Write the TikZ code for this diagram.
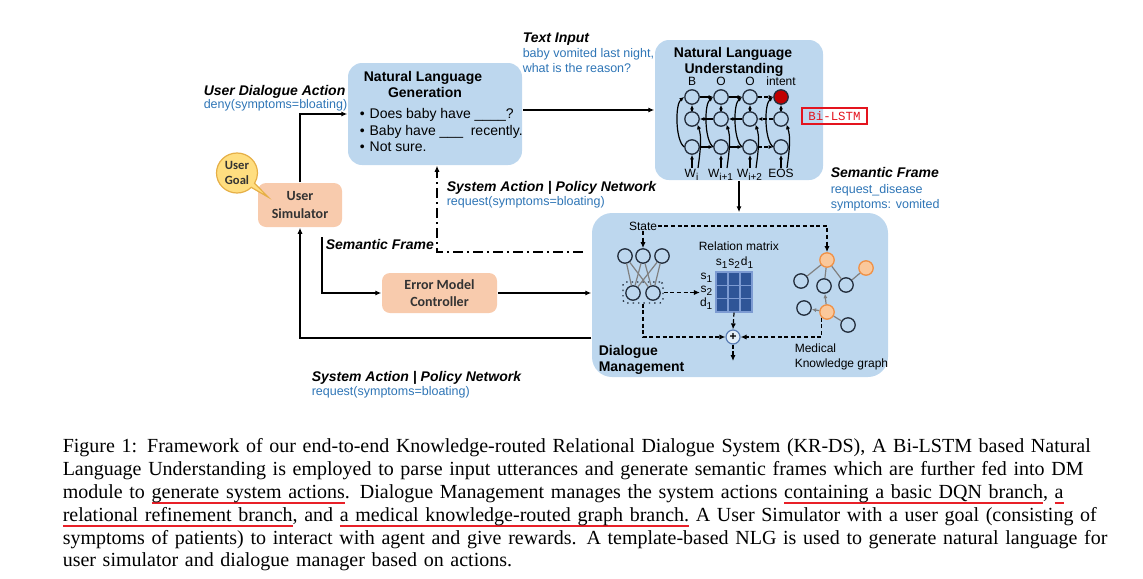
\documentclass[tikz,border=0pt]{standalone}
\usepackage{fontspec}
\setmainfont{Liberation Serif}
\setsansfont{Liberation Sans}
\setmonofont{Liberation Mono}
\newfontfamily\calfont{Carlito}
\usetikzlibrary{arrows.meta,positioning,shapes.callouts}

\definecolor{modblue}{RGB}{189,215,238}
\definecolor{valblue}{RGB}{46,117,182}
\definecolor{peach}{RGB}{248,203,173}
\definecolor{goalfill}{RGB}{255,222,128}
\definecolor{goaledge}{RGB}{230,175,70}
\definecolor{kgfill}{RGB}{250,200,155}
\definecolor{kgedge}{RGB}{240,145,70}
\definecolor{matblue}{RGB}{47,85,151}
\definecolor{matline}{RGB}{125,155,210}
\definecolor{intentred}{RGB}{192,0,0}
\definecolor{lstmred}{RGB}{228,20,30}
\definecolor{ulred}{RGB}{232,32,40}
\definecolor{edgegray}{RGB}{128,128,128}
\definecolor{celledge}{RGB}{35,45,60}
\definecolor{plusedge}{RGB}{90,125,180}

\newsavebox\ulbox
\newcommand\redul[1]{\sbox\ulbox{#1}\leavevmode\rlap{\textcolor{ulred}{\rule[-2.9pt]{\wd\ulbox}{1pt}}}\usebox\ulbox}
\newcommand\capline[1]{\makebox[523pt][s]{#1}}

\tikzset{
  module/.style={fill=modblue, rounded corners=7pt, inner sep=0pt},
  agent/.style={fill=peach, rounded corners=4pt, inner sep=0pt, align=center,
    font=\calfont\bfseries\fontsize{7}{8.6}\selectfont, text=black!80},
  ttl/.style={font=\sffamily\bfseries\fontsize{7}{8}\selectfont, inner sep=0pt},
  plaintxt/.style={font=\sffamily\fontsize{7}{8}\selectfont, inner sep=0pt},
  lbl/.style={font=\sffamily\bfseries\itshape\fontsize{7}{8}\selectfont, inner sep=0pt},
  val/.style={font=\sffamily\fontsize{6.25}{7.5}\selectfont, text=valblue, inner sep=0pt},
  smalltxt/.style={font=\sffamily\fontsize{6}{7.5}\selectfont, inner sep=0pt},
  cell/.style={circle, draw=celledge, line width=0.65pt, minimum size=7.2pt, inner sep=0pt},
  darr/.style={->, line width=0.6pt, dash pattern=on 2pt off 1.3pt},
  dashdot/.style={line width=0.8pt, dash pattern=on 5pt off 2pt on 1pt off 2pt},
}

\begin{document}
\begin{tikzpicture}[x=0.5pt, y=-0.5pt, line width=0.75pt, >={Latex[length=3pt,width=2.6pt]}]
\useasboundingbox (0,0) rectangle (1143,578);

% modules
\node[module, minimum width=87pt, minimum height=51pt] (nlg) at (435,114) {};
\node[module, minimum width=84pt, minimum height=70pt] (nlu) at (739,110) {};
\node[module, rounded corners=10pt, minimum width=148pt, minimum height=82pt] (dm) at (740,295) {};
\node[agent, minimum width=42pt, minimum height=22pt] (usim) at (300,205) {User\\Simulator};
\node[agent, minimum width=57.5pt, minimum height=20pt] (emc) at (439.5,293) {Error Model\\Controller};
\node[ellipse callout, draw=goaledge, fill=goalfill, line width=0.6pt, minimum width=20.5pt,
  minimum height=20pt, inner sep=0pt, align=center, text=black!80,
  font=\calfont\bfseries\fontsize{6.3}{7.3}\selectfont,
  callout absolute pointer={(268,197)}] (goal) at (237,173) {User\\Goal};

% main flow
\draw[->] (usim.north) |- (nlg.west);
\draw[->] (nlg.east |- nlu.west) -- (nlu.west);
\draw[->] (nlu.south) -- (nlu.south |- dm.north);
\coordinate (dmsys) at (583,252);
\draw[->, dashdot] (dmsys) -| ([xshift=1pt]nlg.south);
\coordinate (sfin) at (322,237);
\draw[->] (sfin) |- (emc.west);
\draw[->] (emc.east) -- (emc.east -| dm.west);
\draw[->] (dm.west |- 0,338) -| (usim.south);

% labels on the flow
\node[lbl, anchor=base west] (udalbl) at (203,95) {User Dialogue Action};
\node[val, anchor=base west] (udaval) at (203,108) {deny(symptoms=bloating)};
\node[lbl, anchor=base west] (tilbl) at (522,42) {Text Input};
\node[val, anchor=base west] (tival1) at (522,57) {baby vomited last night,};
\node[val, anchor=base west] (tival2) at (522,72) {what is the reason?};
\node[lbl, anchor=base west] (salbl) at (446,191) {System Action | Policy Network};
\node[val, anchor=base west] (saval) at (446,205) {request(symptoms=bloating)};
\node[lbl, anchor=base west] (sflbl) at (325,249) {Semantic Frame};
\node[lbl, anchor=base west] (sf2lbl) at (830,177) {Semantic Frame};
\node[val, anchor=base west] (sf2val1) at (830,193) {request\_disease};
\node[val, anchor=base west] (sf2val2) at (830,208) {symptoms: vomited};
\node[lbl, anchor=base west] (sa2lbl) at (311,381) {System Action | Policy Network};
\node[val, anchor=base west] (sa2val) at (311,395) {request(symptoms=bloating)};

% NLG
\node[ttl, anchor=base] (nlgt1) at (423,81) {Natural Language};
\node[ttl, anchor=base] (nlgt2) at (425,97) {Generation};
\foreach \n/\ly/\txt in {1/118/{Does baby have \_\_\_\_?}, 2/135/{Baby have \_\_\_\ \ recently.}, 3/151/{Not sure.}}
  \node[plaintxt, anchor=base west] (nlgi\n) at (359,\ly) {\textbullet\hspace{2.5pt}\txt};

% NLU: Bi-LSTM
\node[ttl, anchor=base] (nlut1) at (733,57) {Natural Language};
\node[ttl, anchor=base] (nlut2) at (734,73) {Understanding};
\foreach \c/\cx/\out/\win/\fc in {1/692/B/W\textsubscript{i}/none, 2/721/O/W\textsubscript{i+1}/none,
    3/750/O/W\textsubscript{i+2}/none, 4/781/intent/EOS/intentred} {
  \node[cell, fill=\fc] (top\c) at (\cx,97) {};
  \node[cell] (mid\c) at (\cx,119) {};
  \node[cell] (bot\c) at (\cx,147) {};
  \node[smalltxt, anchor=base] (out\c) at (\cx,85) {\out};
  \node[smalltxt, anchor=base] (win\c) at (\cx,177) {\win};
}
\begin{scope}[line width=0.6pt, >={Latex[length=2.3pt,width=2.1pt]}]
  \foreach \a/\b in {1/2,2/3} {
    \draw[->] (top\a) -- (top\b);
    \draw[->] (bot\a) -- (bot\b);
    \draw[->] (mid\b) -- (mid\a);
  }
  \draw[darr] (top3) -- (top4);
  \draw[darr] (bot3) -- (bot4);
  \draw[darr] (mid4) -- (mid3);
  \foreach \c in {1,...,4} {
    \draw[->] (mid\c) -- (top\c);
    \draw[->] (win\c.north) -- (bot\c);
    \draw[->] (bot\c.west) .. controls +(-9,-7) and +(-9,7) .. (top\c.west);
    \draw[->] ([xshift=3pt]win\c.north) .. controls +(3,-22) and +(4,12) .. (mid\c.south east);
  }
\end{scope}
\node[draw=lstmred, line width=1pt, text=lstmred, font=\ttfamily\fontsize{6.2}{7}\selectfont,
  minimum width=32.5pt, minimum height=8pt, inner sep=0pt] (bilstm) at (834.5,116) {Bi-LSTM};

% DM: DQN branch
\node[smalltxt] (state) at (643,226) {State};
\foreach \t/\tx in {1/625,2/643,3/662} \node[cell] (q\t) at (\tx,256) {};
\node[draw=celledge, dotted, line width=0.7pt, rounded corners=1.5pt, minimum width=20pt,
  minimum height=10.5pt, inner sep=0pt] (dqnbox) at (643,292.5) {};
\foreach \b/\bx in {1/633,2/653} \node[cell] (h\b) at (\bx,293) {};
\foreach \t in {1,2,3} \foreach \b in {1,2} \draw[edgegray, line width=0.6pt] (q\t) -- (h\b);

% DM: relation matrix
\node[smalltxt, anchor=base west] (rmtitle) at (698,250) {Relation matrix};
\node[smalltxt] (colhdr) at (735,263) {s\textsubscript{1}s\textsubscript{2}d\textsubscript{1}};
\node[fill=matblue, draw=matline, line width=0.6pt, minimum width=18pt, minimum height=20pt,
  inner sep=0pt] (relmat) at (734,292) {};
\foreach \k in {1,2} {
  \draw[matline, line width=0.7pt] (716+12*\k,272) -- (716+12*\k,312);
  \draw[matline, line width=0.7pt] (716,272+13.33*\k) -- (752,272+13.33*\k);
}
\foreach \r/\ry/\rl in {1/278/s\textsubscript{1}, 2/291/s\textsubscript{2}, 3/304/d\textsubscript{1}}
  \node[smalltxt, anchor=east] (row\r) at (714,\ry) {\rl};
\node[circle, draw=plusedge, fill=white!55!modblue, line width=0.6pt, minimum size=7pt, inner sep=0pt,
  font=\sffamily\bfseries\fontsize{6}{6}\selectfont] (plus) at (733,337) {+};

% DM: knowledge graph
\foreach \n/\nx/\ny/\fc/\dc in {A/827/260/kgfill/kgedge, B/866/268/kgfill/kgedge, C/801/281/none/celledge,
    D/824/286/none/celledge, E/846/285/none/celledge, F/804/308/none/celledge,
    G/827/312/kgfill/kgedge, H/848/325/none/celledge}
  \node[cell, fill=\fc, draw=\dc] (kg\n) at (\nx,\ny) {};
\foreach \u/\v in {A/C, A/D, A/E, E/B, G/H} \draw[edgegray, line width=0.6pt] (kg\u) -- (kg\v);
\foreach \u/\v in {G/D, G/F} \draw[edgegray, line width=0.6pt, ->, >={Latex[length=2.2pt,width=2pt]}] (kg\u) -- (kg\v);

% DM: dashed routing
\draw[darr] (state) -- (q2);
\draw[darr] (state.east) -| (kgA.north);
\draw[darr] (dqnbox.east) -- (dqnbox.east -| row2.west);
\draw[darr] (relmat.south) -- (plus.north);
\draw[darr] (dqnbox.south) |- (plus.west);
\draw[darr] (kgG.south west) |- (plus.east);
\coordinate (dmout) at (733,361);
\draw[darr] (plus.south) -- (dmout);
\node[ttl, align=left, anchor=north west] (dmttl) at (598,345) {Dialogue\\Management};
\node[smalltxt, align=left, anchor=north west] (kgttl) at (794,343) {Medical\\Knowledge graph};

% caption
\node[anchor=north west, text width=523pt, align=left, inner sep=0pt,
  font=\rmfamily\fontsize{10}{11.4}\selectfont] (caption) at (62,438) {%
  \noindent\capline{Figure 1: Framework of our end-to-end Knowledge-routed Relational Dialogue System (KR-DS), A Bi-LSTM based Natural}\\
  \capline{Language Understanding is employed to parse input utterances and generate semantic frames which are further fed into DM}\\
  \capline{module to \redul{generate system actions}. Dialogue Management manages the system actions \redul{containing a basic DQN branch}, \redul{a}}\\
  \capline{\redul{relational refinement branch}, and \redul{a medical knowledge-routed graph branch.} A User Simulator with a user goal (consisting of}\\
  \capline{symptoms of patients) to interact with agent and give rewards. A template-based NLG is used to generate natural language for}\\
  user simulator and dialogue manager based on actions.};
\end{tikzpicture}
\end{document}
